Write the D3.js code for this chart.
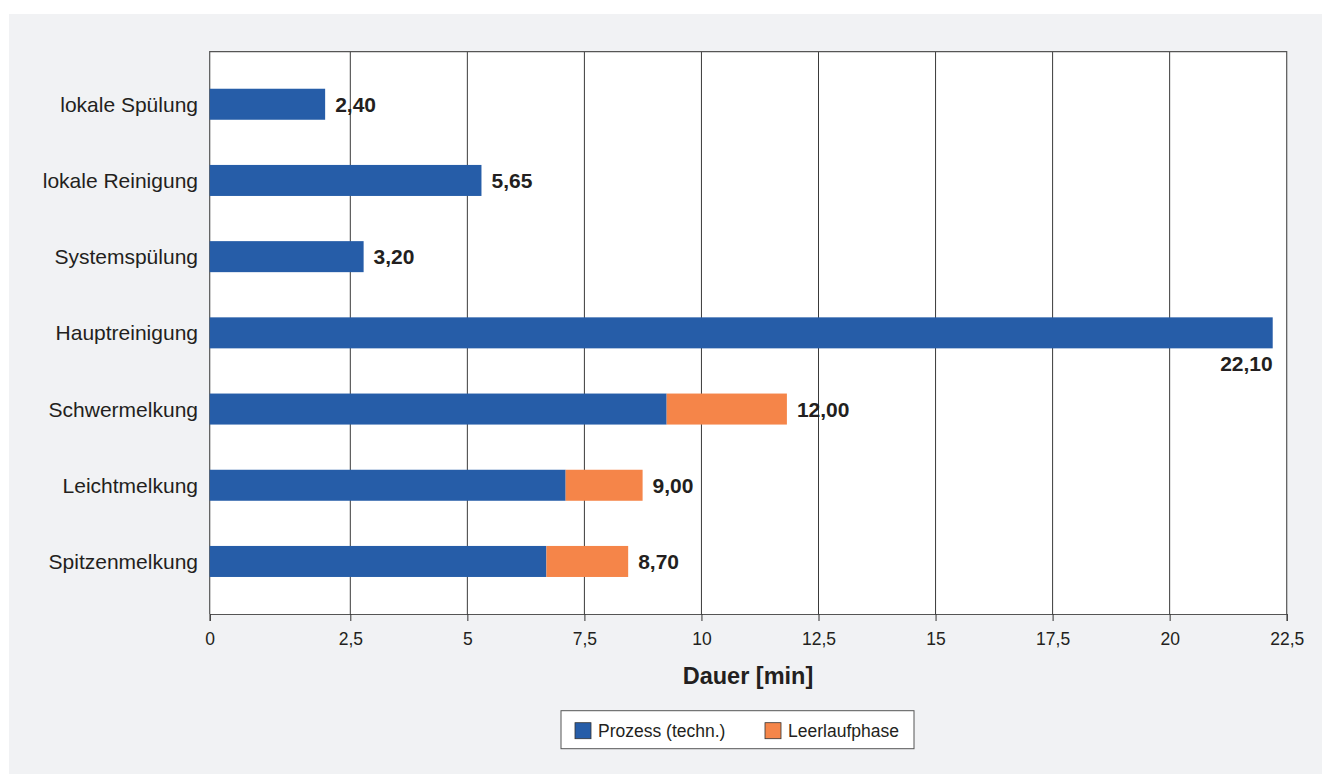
<!DOCTYPE html>
<html>
<head>
<meta charset="utf-8">
<script src="https://cdn.jsdelivr.net/npm/d3@7"></script>
<style>
  html, body { margin: 0; padding: 0; background: #ffffff; }
  svg { display: block; }
  text { font-family: "Liberation Sans", Arial, Helvetica, sans-serif; fill: #231f20; }
</style>
</head>
<body>
<svg id="chart" width="1322" height="774"></svg>
<script>
// ---- data ----
const categories = ["lokale Spülung", "lokale Reinigung", "Systemspülung", "Hauptreinigung",
                    "Schwermelkung", "Leichtmelkung", "Spitzenmelkung"];
const totals = [2.40, 5.65, 3.20, 22.10, 12.00, 9.00, 8.70];
const prozess = [2.40, 5.65, 3.20, 22.10, 9.5, 7.4, 7.0];
const leerlauf = totals.map((t, i) => +(t - prozess[i]).toFixed(2));
const totalLabels = ["2,40", "5,65", "3,20", "22,10", "12,00", "9,00", "8,70"];
const tickValues = [0, 2.5, 5, 7.5, 10, 12.5, 15, 17.5, 20, 22.5];
const tickLabels = ["0", "2,5", "5", "7,5", "10", "12,5", "15", "17,5", "20", "22,5"];
const seriesNames = ["Prozess (techn.)", "Leerlaufphase"];
const seriesColors = ["#265da8", "#f58549"];

// ---- layout ----
const svg = d3.select("#chart");
const L = 209.7, R = 1286.7, T = 51.7, B = 614;

svg.append("rect").attr("x", 9).attr("y", 14).attr("width", 1313).attr("height", 760).attr("fill", "#f1f2f4");
svg.append("rect").attr("x", L).attr("y", T).attr("width", R - L).attr("height", B - T).attr("fill", "#ffffff");

// bar scale (linear) and axis-grid scale (as drawn in the original)
const xBar = d3.scaleLinear().domain([0, 22.5]).range([L, L + 22.5 * 48.1]);
const xAxisScale = d3.scaleLinear().domain([0, 2.5, 22.5]).range([L, 350.3, R]);
const y = d3.scaleBand().domain(categories).range([T, B]).paddingInner(0.593).paddingOuter(0.486);

// gridlines
svg.append("g").selectAll("line").data(tickValues.slice(1, -1)).join("line")
  .attr("x1", d => xAxisScale(d)).attr("x2", d => xAxisScale(d))
  .attr("y1", T).attr("y2", B)
  .attr("stroke", "#3a3a3a").attr("stroke-width", 1);

// border
svg.append("path")
  .attr("d", `M${L},${B}V${T}H${R}V${B}`)
  .attr("fill", "none").attr("stroke", "#555").attr("stroke-width", 1.2);

// stacked bars
const stackData = categories.map((c, i) => ({ cat: c, p: prozess[i], l: leerlauf[i] }));
const stack = d3.stack().keys(["p", "l"])(stackData);
svg.append("g").selectAll("g").data(stack).join("g")
  .attr("fill", (d, i) => seriesColors[i])
  .selectAll("rect").data(d => d.filter(s => s[1] - s[0] > 0)).join("rect")
  .attr("x", d => xBar(d[0]))
  .attr("y", d => y(d.data.cat))
  .attr("width", d => xBar(d[1]) - xBar(d[0]))
  .attr("height", y.bandwidth());

// value labels
svg.append("g").selectAll("text").data(categories).join("text")
  .attr("x", (d, i) => i === 3 ? xBar(totals[i]) : xBar(totals[i]) + 10)
  .attr("y", (d, i) => i === 3 ? y(d) + y.bandwidth() + 23 : y(d) + y.bandwidth() / 2)
  .attr("dy", (d, i) => i === 3 ? "0" : "0.36em")
  .attr("text-anchor", (d, i) => i === 3 ? "end" : "start")
  .attr("font-size", 21).attr("font-weight", "bold")
  .text((d, i) => totalLabels[i]);

// y axis labels
svg.append("g").selectAll("text").data(categories).join("text")
  .attr("x", 198)
  .attr("y", d => y(d) + y.bandwidth() / 2)
  .attr("dy", "0.36em")
  .attr("text-anchor", "end")
  .attr("font-size", 21)
  .text(d => d);

// x axis
const xAxis = d3.axisBottom(xAxisScale).tickValues(tickValues)
  .tickFormat((d, i) => tickLabels[i]).tickSize(7).tickPadding(12);
const gx = svg.append("g").attr("transform", `translate(0,${B})`).call(xAxis);
gx.select(".domain").attr("stroke", "#555").attr("stroke-width", 1.2);
gx.selectAll(".tick line").attr("stroke", "#333");
gx.selectAll(".tick text").attr("font-size", 17.5)
  .attr("font-family", "'Liberation Sans', Arial, sans-serif").attr("fill", "#231f20");

// axis title
svg.append("text").attr("x", 748).attr("y", 684)
  .attr("text-anchor", "middle").attr("font-size", 23.5).attr("font-weight", "bold")
  .text("Dauer [min]");

// legend
const lg = svg.append("g");
lg.append("rect").attr("x", 561).attr("y", 710.7).attr("width", 353).attr("height", 38)
  .attr("fill", "#fff").attr("stroke", "#555").attr("stroke-width", 1);
const legendX = [575, 765];
seriesNames.forEach((n, i) => {
  lg.append("rect").attr("x", legendX[i]).attr("y", 722.7).attr("width", 16).attr("height", 16)
    .attr("fill", seriesColors[i]).attr("stroke", "#333").attr("stroke-width", 0.8);
  lg.append("text").attr("x", legendX[i] + 23).attr("y", 731).attr("dy", "0.36em")
    .attr("font-size", 17.5).text(n);
});
</script>
</body>
</html>
